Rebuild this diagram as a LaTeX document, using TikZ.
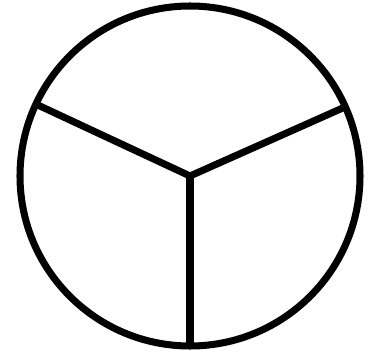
\documentclass[tikz,border=0pt]{standalone}
\usepackage{tikz}
\usetikzlibrary{calc}

\begin{document}
\begin{tikzpicture}[x=0.02cm, y=0.02cm]

    % ==========================================
    % CIRCLE SPLIT INTO THREE PARTS
    % ==========================================
    % Define parameters
    \def\radius{170}    % Radius of the circle
    \def\angleleft{155} % Direction of the upper left spoke
    \def\angleright{24} % Direction of the upper right spoke

    % Fix the margins of the picture
    \useasboundingbox (0,0) rectangle (373,356);

    % Coordinates
    \coordinate (O) at (190,180);
    \coordinate (L) at ($(O)+(\angleleft:\radius)$);
    \coordinate (R) at ($(O)+(\angleright:\radius)$);
    \coordinate (D) at ($(O)+(270:\radius)$);

    % Draw the circle
    \draw[line width=4pt] (O) circle (\radius);

    % Draw the three spokes
    \draw[line width=4pt, line join=miter] (L) -- (O) -- (R);
    \draw[line width=4pt] (O) -- (D);

\end{tikzpicture}
\end{document}
